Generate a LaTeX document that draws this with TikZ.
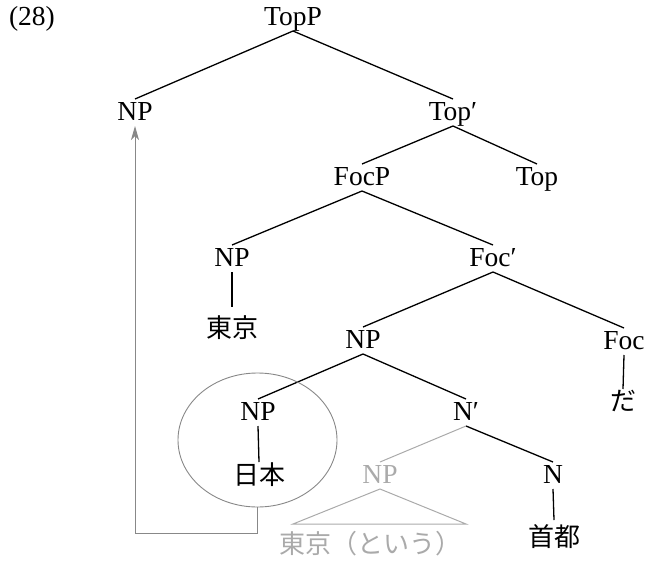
\documentclass[tikz,border=0pt]{standalone}
\usepackage{fontspec}
\setmainfont{Liberation Serif}
\newfontfamily\jpfont{Noto Sans CJK JP}
\usetikzlibrary{shapes.geometric,arrows.meta}
\definecolor{linegrey}{HTML}{888888}
\definecolor{ghostgrey}{HTML}{AAAAAA}
\begin{document}
\begin{tikzpicture}[x=1pt,y=-1pt,
  lab/.style={font=\fontsize{27.5}{30}\selectfont, inner sep=0pt, outer sep=0pt, anchor=base, text height=21pt, text depth=6pt},
  jp/.style={font=\fontsize{26}{30}\selectfont\jpfont, inner sep=0pt, outer sep=0pt, anchor=base, text height=24pt, text depth=2pt},
  branch/.style={line width=1.3pt, black},
  ghostline/.style={line width=1pt, ghostgrey},
  ghosttext/.style={text=ghostgrey},
  moveline/.style={line width=1pt, linegrey}]
\useasboundingbox (0,0) rectangle (648,560);

\node[lab, text height=18pt] (num) at (32,25) {(28)};

\node[lab] (topp) at (293,25) {TopP};
\node[lab] (np1) at (135,120) {NP};
\node[lab] (topbar) at (453,120) {Top′};
\node[lab] (focp) at (362,185) {FocP};
\node[lab] (top) at (537,185) {Top};
\node[lab] (np2) at (232,266) {NP};
\node[lab] (focbar) at (493,266) {Foc′};
\node[jp, text height=30pt] (tokyo) at (232,337) {東京};
\node[lab] (np3) at (363,348) {NP};
\node[lab] (foc) at (624,349) {Foc};
\node[jp, text height=21pt] (da) at (623,410) {だ};
\node[lab] (np4) at (258,420) {NP};
\node[lab] (nbar) at (466,420) {N′};
\node[jp, text height=22pt] (nihon) at (259,484) {日本};
\node[lab, ghosttext] (npg) at (380,483) {NP};
\node[lab] (n) at (553,483) {N};
\node[jp, ghosttext, text height=30pt] (tokyoiu) at (370,553) {東京（という）};
\node[jp, text height=26pt] (shuto) at (554,546) {首都};

\coordinate (tl) at (293,524);
\coordinate (tr) at (466,524);

\draw[branch] (topp.south) -- (np1.north);
\draw[branch] (topp.south) -- (topbar.north);
\draw[branch] (topbar.south) -- (focp.north);
\draw[branch] (topbar.south) -- (top.north);
\draw[branch] (focp.south) -- (np2.north);
\draw[branch] (focp.south) -- (focbar.north);
\draw[branch] (np2.south) -- (tokyo.north);
\draw[branch] (focbar.south) -- (np3.north);
\draw[branch] (focbar.south) -- (foc.north);
\draw[branch] (foc.south) -- (da.north);
\draw[branch] (np3.south) -- (np4.north);
\draw[branch] (np3.south) -- (nbar.north);
\draw[branch] (np4.south) -- (nihon.north);
\draw[branch] (nbar.south) -- (n.north);
\draw[branch] (n.south) -- (shuto.north);
\draw[ghostline] (nbar.south) -- (npg.north);
\draw[ghostline] (npg.south) -- (tl) -- (tr) -- cycle;

\node[draw=linegrey, line width=0.9pt, ellipse, inner sep=0pt, minimum width=159pt, minimum height=134pt] (circ) at (257.5,440) {};

\draw[moveline, -{Stealth[length=14pt,width=8pt,inset=4pt]}] (circ.south) -- ++(0,26) -| (np1.south);
\end{tikzpicture}
\end{document}
